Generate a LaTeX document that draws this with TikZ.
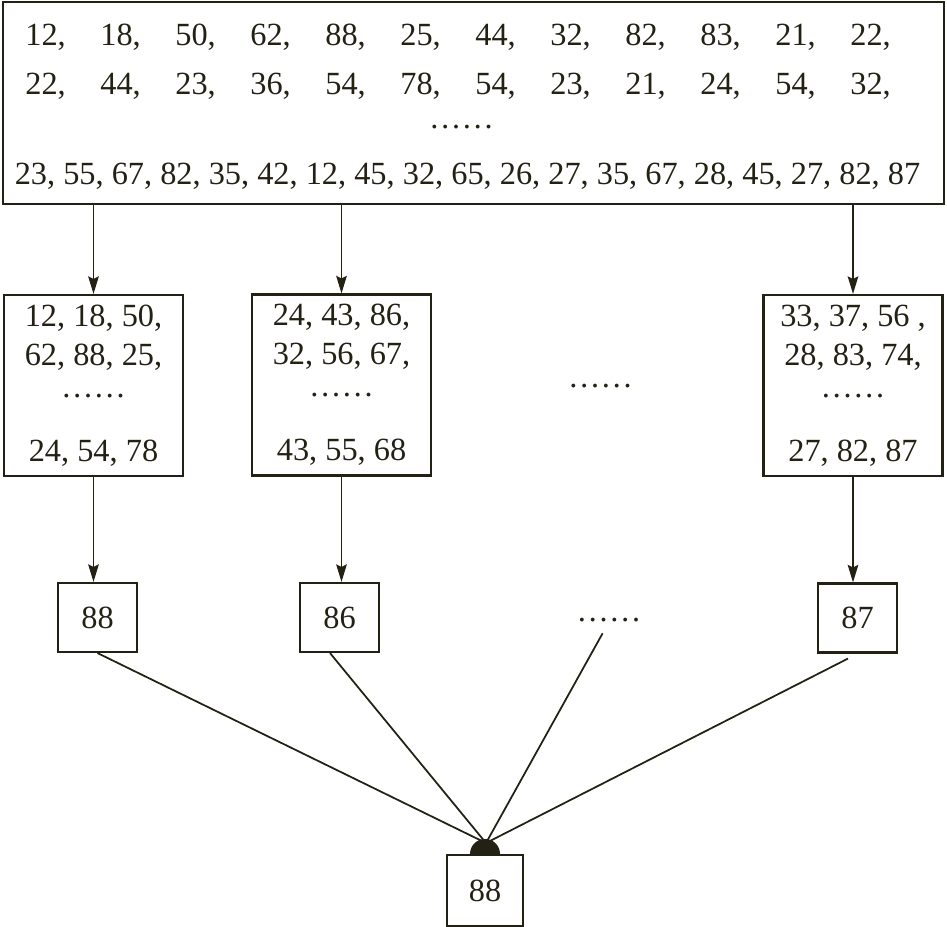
\documentclass[tikz,border=0pt]{standalone}
\usepackage{fontspec}
\setmainfont{Liberation Serif}
\usepackage{tikz}
\usetikzlibrary{arrows.meta, positioning, calc}
\definecolor{ink}{RGB}{35,32,20}
\tikzset{
    box_data/.style={
        rectangle, draw=ink, line width=1.2pt,
        minimum width=18.82cm, minimum height=4.04cm, inner sep=0pt
    },
    box_group/.style={
        rectangle, draw=ink, line width=1.2pt, text=ink,
        minimum width=3.58cm, minimum height=3.62cm,
        align=center, inner sep=0pt
    },
    box_max/.style={
        rectangle, draw=ink, line width=1.2pt, text=ink,
        minimum width=1.58cm, minimum height=1.38cm
    },
    row_txt/.style={
        inner sep=0pt, text=ink
    },
    feed_arrow/.style={
        -{Stealth[length=10pt, width=6pt, inset=1.5pt]}, draw=ink, line width=1.1pt
    },
    link_line/.style={
        draw=ink, line width=1pt
    }
}

\begin{document}
\begin{tikzpicture}[font=\fontsize{18.4}{22.2}\selectfont]
    \useasboundingbox (0,0) rectangle (18.94,-18.54);

    % --- Tier 1: the whole data set ---
    \node[box_data] (data) at (9.47,-2.06) {};
    \node[row_txt, anchor=base west] (rowa) at (0.50,-0.92) {%
        \begin{tabular}[t]{@{}*{12}{p{1.5cm}@{}}}
        12, & 18, & 50, & 62, & 88, & 25, & 44, & 32, & 82, & 83, & 21, & 22,
        \end{tabular}};
    \node[row_txt, anchor=base west] (rowb) at (0.50,-1.90) {%
        \begin{tabular}[t]{@{}*{12}{p{1.5cm}@{}}}
        22, & 44, & 23, & 36, & 54, & 78, & 54, & 23, & 21, & 24, & 54, & 32,
        \end{tabular}};
    \node[row_txt, anchor=base] (dotsa) at (9.23,-2.58) {……};
    \node[row_txt, anchor=base] (rowd) at (9.35,-3.70)
        {23, 55, 67, 82, 35, 42, 12, 45, 32, 65, 26, 27, 35, 67, 28, 45, 27, 82, 87};

    % --- Tier 2: the groups ---
    \node[box_group] (grpa) at (1.87,-7.71) {12, 18, 50,\\62, 88, 25,\\[-4pt]……\\[14pt]24, 54, 78};
    \node[box_group] (grpb) at (6.83,-7.70) {24, 43, 86,\\32, 56, 67,\\[-4pt]……\\[14pt]43, 55, 68};
    \node[row_txt, anchor=base] (dotsb) at (12.01,-7.74) {……};
    \node[box_group] (grpc) at (17.06,-7.71) {33, 37, 56 ,\\28, 83, 74,\\[-4pt]……\\[14pt]27, 82, 87};

    % --- Tier 3: the maximum of each group ---
    \node[box_max] (maxa) at (1.95,-12.35) {88};
    \node[box_max] (maxb) at (6.79,-12.35) {86};
    \node[row_txt, anchor=base] (dotsc) at (12.18,-12.42) {……};
    \node[box_max] (maxc) at (17.15,-12.36) {87};

    % --- Tier 4: the overall maximum ---
    \node[box_max, minimum width=1.52cm, minimum height=1.42cm] (final) at (9.70,-17.81) {88};
    \fill[ink] ([xshift=-0.30cm]final.north) arc[start angle=180, end angle=0, radius=0.30cm];
    \coordinate (apex) at (9.72,-16.86);

    % --- Flow Arrows ---
    \draw[feed_arrow] (grpa.north |- data.south) -- (grpa.north);
    \draw[feed_arrow] (grpb.north |- data.south) -- (grpb.north);
    \draw[feed_arrow] (grpc.north |- data.south) -- (grpc.north);

    \draw[feed_arrow] (grpa.south) -- (grpa.south |- maxa.north);
    \draw[feed_arrow] (grpb.south) -- (grpb.south |- maxb.north);
    \draw[feed_arrow] (grpc.south) -- (grpc.south |- maxc.north);

    \draw[link_line] (maxa.south) -- (apex);
    \draw[link_line] ([xshift=-0.19cm]maxb.south) -- (apex);
    \draw[link_line, shorten <=7.5pt] (dotsc.south) -- (apex);
    \draw[link_line] ([xshift=-0.19cm, yshift=-0.10cm]maxc.south) -- (apex);

\end{tikzpicture}
\end{document}
